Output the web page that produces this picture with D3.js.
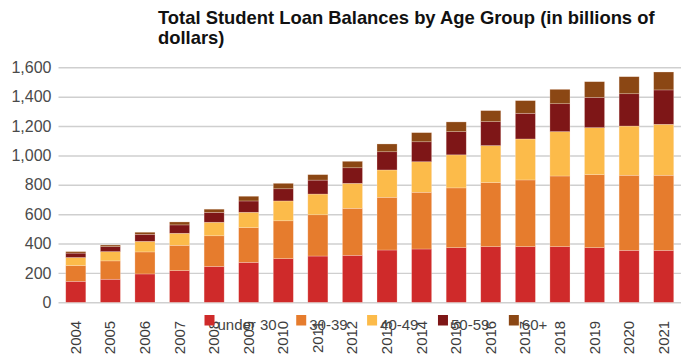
<!DOCTYPE html>
<html>
<head>
<meta charset="utf-8">
<script src="https://cdn.jsdelivr.net/npm/d3@7"></script>
<style>
  html, body { margin: 0; padding: 0; background: #fff; }
  svg { display: block; font-family: "Liberation Sans", Arial, sans-serif; }
</style>
</head>
<body>
<svg id="chart" width="690" height="361"></svg>
<script>
// Student loan balances, billions of dollars, by borrower age group
const years = ["2004","2005","2006","2007","2008","2009","2010","2011","2012","2013","2014","2015","2016","2017","2018","2019","2020","2021"];
const under30   = [143,157,193,216,244,272,297,315,320,356,363,372,379,379,379,372,354,354];
const age30to39 = [107,125,150,172,209,236,258,281,320,359,386,407,436,454,481,497,511,511];
const age40to49 = [55,63,72,82,92,105,135,141,170,186,208,225,252,279,302,320,335,347];
const age50to59 = [30,34,48,57,67,77,83,95,106,124,136,158,163,175,190,206,220,234];
const age60plus = [10,11,14,20,22,32,37,37,44,53,62,66,75,86,98,107,116,122];

const seriesNames = ["under 30","30-39","40-49","50-59","60+"];
const seriesValues = [under30, age30to39, age40to49, age50to59, age60plus];
const seriesColors = ["#cf2a2a","#e67c2d","#fcbb4a","#7e1617","#8b4714"];
const yTicks = [0,200,400,600,800,1000,1200,1400,1600];

const titleLines = ["Total Student Loan Balances by Age Group (in billions of", "dollars)"];

const svg = d3.select("#chart");

const plot = { left: 58.5, right: 681, top: 67.3, bottom: 302.3 };

const x = d3.scaleBand()
  .domain(years)
  .range([plot.left, plot.right])
  .paddingInner(0.42)
  .paddingOuter(0.21);

const y = d3.scaleLinear()
  .domain([0, 1600])
  .range([plot.bottom, plot.top]);

// table for the stack layout
const rows = years.map((yr, i) => {
  const r = { year: yr };
  seriesNames.forEach((n, k) => { r[n] = seriesValues[k][i]; });
  return r;
});
const stacked = d3.stack().keys(seriesNames)(rows);

// gridlines + y labels
const yAxis = d3.axisLeft(y)
  .tickValues(yTicks)
  .tickSize(-(plot.right - plot.left))
  .tickPadding(7)
  .tickFormat(d3.format(","));

const gy = svg.append("g")
  .attr("transform", `translate(${plot.left},0)`)
  .call(yAxis);
gy.select(".domain").remove();
gy.selectAll(".tick line")
  .attr("stroke", "#cfcfcf")
  .attr("stroke-width", 1.4);
gy.selectAll(".tick text")
  .attr("fill", "#4a4a4a")
  .attr("font-size", 16);

// stacked bars
svg.append("g")
  .selectAll("g")
  .data(stacked)
  .join("g")
    .attr("fill", (d, i) => seriesColors[i])
  .selectAll("rect")
  .data(d => d)
  .join("rect")
    .attr("x", d => x(d.data.year))
    .attr("width", x.bandwidth())
    .attr("y", d => y(d[1]))
    .attr("height", d => y(d[0]) - y(d[1]))
    .attr("stroke", "rgba(255,235,225,0.45)")
    .attr("stroke-width", 0.6);

// rotated year labels
const gx = svg.append("g")
  .attr("transform", `translate(0,${plot.bottom})`)
  .call(d3.axisBottom(x).tickSize(0).tickPadding(0));
gx.select(".domain").remove();
gx.selectAll(".tick text")
  .attr("font-size", 15)
  .attr("fill", "#3c3c3c")
  .attr("text-anchor", "end")
  .attr("dy", null)
  .attr("transform", "translate(5,18.5) rotate(-90)")
  .attr("y", 0)
  .attr("x", 0);

// legend
const legend = svg.append("g").attr("transform", "translate(204.5,315)");
let lx = 0;
seriesNames.forEach((name, i) => {
  const item = legend.append("g").attr("transform", `translate(${lx},0)`);
  item.append("rect")
    .attr("width", 10).attr("height", 10.5)
    .attr("fill", seriesColors[i]);
  const t = item.append("text")
    .attr("x", 13).attr("y", 15)
    .attr("font-size", 15)
    .attr("fill", "#444")
    .text(name);
  lx += 13 + t.node().getComputedTextLength() + 19.5;
});

// title
const title = svg.append("text")
  .attr("x", 158)
  .attr("y", 24)
  .attr("font-size", 18.4)
  .attr("font-weight", "bold")
  .attr("fill", "#111");
titleLines.forEach((line, i) => {
  title.append("tspan")
    .attr("x", 158)
    .attr("dy", i === 0 ? 0 : 19.5)
    .text(line);
});
</script>
</body>
</html>
